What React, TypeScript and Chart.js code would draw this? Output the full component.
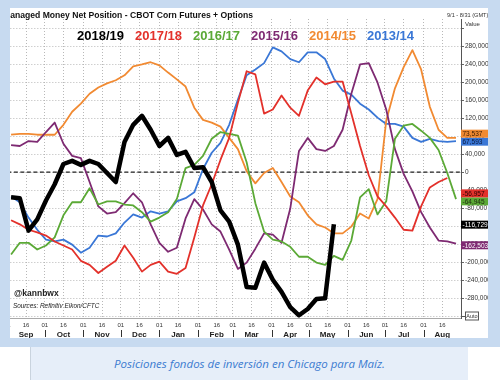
import React, { useEffect, useRef } from "react";
import { Chart, registerables } from "chart.js";

Chart.register(...registerables);

// Weekly report dates, as days since Sep 1 of the season
const weekDays = [3, 10, 17, 24, 31, 38, 45, 52, 59, 66, 73, 80, 87, 94, 101, 108, 115, 122, 129, 136, 143, 150, 157, 164, 171, 178, 185, 192, 199, 206, 213, 220, 227, 234, 241, 248, 255, 262, 269, 276, 283, 290, 297, 304, 311, 318, 325, 332, 339, 346, 353, 360];

// Net position, thousands of contracts
const s2018_19 = [-56, -58, -130, -105, -63, -27, 18, 25, 16, 25, 18, -2, -22, 67, 105, 125, 94, 58, 76, 38, 45, 9, 11, -22, -85, -110, -161, -255, -257, -201, -239, -266, -300, -318, -304, -282, -280, -116];
const s2017_18 = [-107, -116, -128, -134, -141, -154, -163, -172, -197, -206, -224, -210, -197, -163, -190, -221, -206, -199, -221, -226, -213, -145, -74, -27, 27, 76, 154, 224, 217, 130, 139, 170, 143, 125, 181, 210, 195, 201, 201, 130, 58, -7, -54, -76, -101, -128, -130, -76, -34, -22, -13];
const s2016_17 = [-183, -157, -157, -172, -163, -145, -96, -67, -67, -36, -72, -65, -65, -72, -74, -89, -110, -101, -89, -60, 9, 16, 36, 74, 89, 85, 81, 22, -69, -132, -150, -154, -166, -188, -188, -201, -206, -186, -195, -152, -56, -38, -94, -65, 74, 103, 107, 92, 76, 49, -2, -60];
const s2015_16 = [60, 58, 69, 67, 89, 110, 63, 36, 31, -22, -76, -92, -89, -69, -47, -67, -116, -157, -177, -168, -103, -60, -83, -116, -132, -172, -215, -201, -170, -136, -139, -157, -81, 47, 76, 51, 47, 58, 94, 174, 239, 242, 199, 139, 51, -4, -43, -89, -123, -152, -154, -159];
const s2014_15 = [83, 85, 85, 83, 83, 83, 105, 134, 152, 174, 188, 197, 204, 215, 235, 239, 244, 237, 221, 206, 190, 143, 116, 110, 101, 76, 51, 2, -25, -2, 9, -22, -54, -67, -96, -116, -123, -136, -136, -121, -92, -103, -60, 114, 186, 233, 271, 228, 145, 94, 76, 76];
const s2013_14 = [-54, -67, -101, -128, -150, -154, -150, -161, -179, -168, -141, -143, -136, -112, -94, -101, -87, -92, -87, -65, -58, -45, 7, 43, 65, 105, 161, 215, 228, 242, 277, 268, 251, 244, 266, 266, 251, 208, 181, 172, 152, 139, 121, 107, 107, 101, 76, 67, 74, 69, 67, 69];

const seriesLabels = ["2018/19", "2017/18", "2016/17", "2015/16", "2014/15", "2013/14"];
const seriesData = [s2018_19, s2017_18, s2016_17, s2015_16, s2014_15, s2013_14];
const seriesColors = ["#000000", "#e3312b", "#5ba936", "#7e2a72", "#f18a32", "#3a77d6"];
const boxTextColors = ["#ffffff", "#2a0000", "#1e2a10", "#ffffff", "#3a1a00", "#0a1a40"];

// Last values shown in the boxes on the value axis
const lastValues = [-116729, -56957, -64945, -162503, 73537, 67593];

// Axis ticks
const tickDays = [0, 15, 30, 45, 61, 76, 91, 106, 122, 137, 153, 168, 181, 196, 212, 227, 242, 257, 273, 288, 303, 318, 334, 349];
const tickLabels = ["01", "16", "01", "16", "01", "16", "01", "16", "01", "16", "01", "16", "01", "16", "01", "16", "01", "16", "01", "16", "01", "16", "01", "16"];
const monthNames = ["Sep", "Oct", "Nov", "Dec", "Jan", "Feb", "Mar", "Apr", "May", "Jun", "Jul", "Aug"];
const monthMidDays = [15, 45, 76, 106, 137, 168, 196, 227, 257, 288, 318, 349];
const monthStartDays = [0, 30, 61, 91, 122, 153, 181, 212, 242, 273, 303, 334];
const yTicks = [-320, -280, -240, -200, -160, -120, -80, -40, 0, 40, 80, 120, 160, 200, 240, 280, 320];

const FONT = "'Liberation Sans', Arial, Helvetica, sans-serif";

const overlay = {
  id: "overlay",
  beforeDatasetsDraw(chart: any) {
    const { ctx, chartArea: a, scales } = chart;
    const y0 = scales.y.getPixelForValue(0);
    ctx.save();
    ctx.strokeStyle = "#222";
    ctx.lineWidth = 1.4;
    ctx.setLineDash([4, 2.5]);
    ctx.beginPath();
    ctx.moveTo(a.left, y0);
    ctx.lineTo(a.right, y0);
    ctx.stroke();
    ctx.restore();
  },
  afterDraw(chart: any) {
    const { ctx, chartArea: a, scales } = chart;
    const x = scales.x;
    const y = scales.y;
    ctx.save();
    // legend
    ctx.font = `bold 13px ${FONT}`;
    ctx.textBaseline = "middle";
    ctx.textAlign = "left";
    let lx = 77;
    chart.data.datasets.forEach((ds: any, i: number) => {
      ctx.fillStyle = seriesColors[i];
      ctx.fillText(ds.label, lx, 36);
      lx += ctx.measureText(ds.label).width + 11;
    });
    // months
    ctx.fillStyle = "#222";
    ctx.font = `bold 8px ${FONT}`;
    ctx.textAlign = "center";
    monthNames.forEach((m, i) => {
      ctx.fillText(m, x.getPixelForValue(monthMidDays[i]), a.bottom + 16.5);
    });
    ctx.strokeStyle = "#333";
    ctx.lineWidth = 1;
    monthStartDays.forEach((d) => {
      const px = Math.round(x.getPixelForValue(d)) + 0.5;
      ctx.beginPath();
      ctx.moveTo(px, a.bottom + 12);
      ctx.lineTo(px, a.bottom + 19);
      ctx.stroke();
    });
    // last value boxes
    const items = lastValues
      .map((v, i) => ({ v, i, py: y.getPixelForValue(v / 1000), cy: 0 }))
      .sort((p, q) => q.py - p.py);
    let limit = Infinity;
    const h = 8;
    items.forEach((it) => {
      it.cy = Math.min(it.py, limit - h);
      limit = it.cy;
    });
    ctx.font = `6.5px ${FONT}`;
    ctx.textAlign = "left";
    items.forEach((it) => {
      ctx.fillStyle = seriesColors[it.i];
      ctx.fillRect(a.right, it.cy - h / 2, 27, h);
      ctx.fillStyle = boxTextColors[it.i];
      ctx.fillText(it.v.toLocaleString("en-US"), a.right + 1.5, it.cy + 0.5);
    });
    // Auto box
    const ab = y.getPixelForValue(-320);
    ctx.strokeStyle = "#555";
    ctx.beginPath();
    ctx.moveTo(a.right, Math.round(ab) + 0.5);
    ctx.lineTo(a.right + 4, Math.round(ab) + 0.5);
    ctx.stroke();
    ctx.fillStyle = "#fff";
    ctx.fillRect(a.right + 4, ab - 4.5, 14, 9);
    ctx.strokeRect(a.right + 4.5, Math.round(ab) - 4, 13, 8);
    ctx.fillStyle = "#333";
    ctx.font = `5.5px ${FONT}`;
    ctx.textAlign = "center";
    ctx.fillText("Auto", a.right + 11, ab + 0.5);
    ctx.restore();
  },
};

export default function App() {
  const ref = useRef<HTMLCanvasElement>(null);
  useEffect(() => {
    const canvas = ref.current;
    if (!canvas) return;
    const chart = new Chart(canvas, {
      type: "line",
      data: {
        datasets: seriesLabels.map((label, i) => ({
          label,
          data: seriesData[i].map((v, k) => ({ x: weekDays[k], y: v })),
          borderColor: seriesColors[i],
          backgroundColor: seriesColors[i],
          borderWidth: i === 0 ? 4.5 : 1.8,
          borderJoinStyle: "round" as const,
          pointRadius: 0,
          tension: 0,
          fill: false,
        })),
      },
      options: {
        responsive: false,
        animation: false,
        devicePixelRatio: 1,
        layout: { padding: { left: 4, right: 12, top: 19, bottom: 0 } },
        plugins: { legend: { display: false }, tooltip: { enabled: false }, title: { display: false } },
        scales: {
          x: {
            type: "linear",
            min: 0,
            max: 364,
            afterFit: (s: any) => {
              s.height = 20;
            },
            afterBuildTicks: (s: any) => {
              s.ticks = tickDays.map((v) => ({ value: v }));
            },
            ticks: {
              autoSkip: false,
              maxRotation: 0,
              padding: 4,
              color: "#333",
              font: { size: 6, family: FONT },
              callback: (v: any) => {
                const i = tickDays.indexOf(Number(v));
                return i >= 0 ? tickLabels[i] : "";
              },
            },
            grid: { color: "#b8b8b8", lineWidth: 1, drawTicks: false },
            border: { display: true, color: "#aaa", dash: [1, 2] },
          },
          y: {
            position: "right",
            min: -324,
            max: 340,
            afterFit: (s: any) => {
              s.width = 27;
            },
            afterBuildTicks: (s: any) => {
              s.ticks = yTicks.map((v) => ({ value: v }));
            },
            ticks: {
              padding: 1,
              color: "#333",
              font: { size: 6.5, family: FONT },
              callback: (v: any) => (Math.abs(Number(v)) === 320 ? "" : (Number(v) * 1000).toLocaleString("en-US")),
            },
            grid: { color: "#b8b8b8", lineWidth: 1, tickLength: 3, tickColor: "#666" },
            border: { display: true, color: "#555", dash: [1, 2] },
          },
        },
      },
      plugins: [overlay],
    } as any);
    return () => chart.destroy();
  }, []);

  return (
    <div style={{ position: "fixed", left: 0, top: 0, width: 500, height: 380, background: "#c7daf0", overflow: "hidden", fontFamily: FONT }}>
      <div style={{ position: "absolute", left: 10, top: 8, width: 478, height: 330, background: "#fff", overflow: "hidden" }}>
        <div style={{ position: "absolute", left: -10, top: -8, width: 500, height: 338 }}>
          <canvas ref={ref} width={500} height={338} style={{ position: "absolute", left: 0, top: 0, width: 500, height: 338 }} />
          <div style={{ position: "absolute", left: 3, top: 10, fontSize: 8.6, fontWeight: "bold", color: "#111", whiteSpace: "nowrap", lineHeight: "10px" }}>
            Managed Money Net Position - CBOT Corn Futures + Options
          </div>
          <div style={{ position: "absolute", left: 447, top: 12, fontSize: 5.6, color: "#333", whiteSpace: "nowrap", lineHeight: "7px" }}>
            9/1 - 8/31 (GMT)
          </div>
          <div style={{ position: "absolute", left: 465, top: 21, fontSize: 6, color: "#333", whiteSpace: "nowrap", lineHeight: "7px" }}>
            Value
          </div>
          <div style={{ position: "absolute", left: 14, top: 288, fontSize: 8.5, fontWeight: "bold", color: "#222", whiteSpace: "nowrap", lineHeight: "10px" }}>
            @kannbwx
          </div>
          <div style={{ position: "absolute", left: 13, top: 302, fontSize: 6.4, fontStyle: "italic", color: "#222", whiteSpace: "nowrap", lineHeight: "8px" }}>
            Sources: Refinitiv Eikon/CFTC
          </div>
        </div>
      </div>
      <div style={{ position: "absolute", left: 0, top: 347, width: 500, height: 33, background: "#fff" }}>
        <div style={{ position: "absolute", left: 30, top: 0, width: 437, height: 33, background: "#e6eef9", borderLeft: "1px solid #c9d3de", display: "flex", alignItems: "center", justifyContent: "center" }}>
          <span style={{ fontFamily: "'Open Sans', Lato, sans-serif", fontStyle: "italic", fontSize: 11.5, color: "#3b7bd0", whiteSpace: "nowrap" }}>
            Posiciones fondos de inversión en Chicago para Maíz.
          </span>
        </div>
      </div>
    </div>
  );
}
